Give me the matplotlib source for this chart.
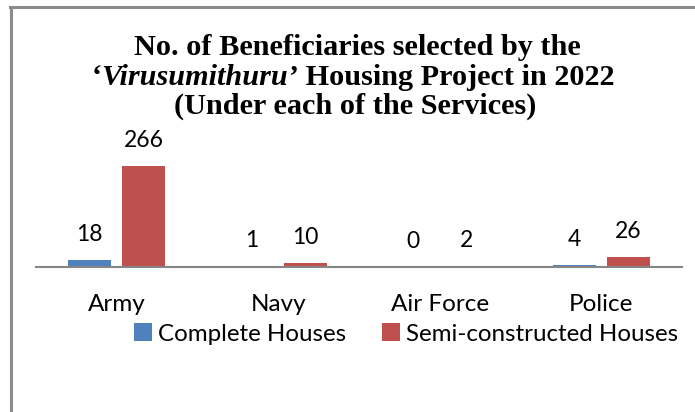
import matplotlib
matplotlib.use('Agg')
import matplotlib.pyplot as plt
from matplotlib.lines import Line2D
from matplotlib.patches import Patch
import numpy as np

categories = ['Army', 'Navy', 'Air Force', 'Police']
complete_houses = [18, 1, 0, 4]
semi_constructed = [266, 10, 2, 26]
series_names = ['Complete Houses', 'Semi-constructed Houses']
colors = ['#4F81BD', '#C0504D']

W, H = 695, 412
fig = plt.figure(figsize=(W / 100, H / 100), dpi=100)
fig.patch.set_facecolor('white')

def fx(px):
    return px / W

def fy(py):
    return (H - py) / H

# frame (top and left edges visible)
fig.add_artist(Line2D([fx(10), fx(695)], [fy(6.5), fy(6.5)], color='#8c8c8c', lw=2.2))
fig.add_artist(Line2D([fx(10.5), fx(10.5)], [fy(6.5), fy(412)], color='#8c8c8c', lw=2.2))

# axes: baseline at y=267 px, x from 36 to 682
ax = fig.add_axes([fx(36), fy(267), fx(682) - fx(36), 120 / H])
ax.set_xlim(-0.5, len(categories) - 0.5)
ax.set_ylim(0, 316)
x = np.arange(len(categories))
bw = 0.266
off = 0.167
for vals, c, dx in [(complete_houses, colors[0], -off), (semi_constructed, colors[1], off)]:
    ax.bar(x + dx, vals, width=bw, color=c, zorder=2)
    for xi, v in zip(x + dx, vals):
        ax.annotate(str(v), (xi, v), xytext=(0, 14), textcoords='offset points',
                    ha='center', va='baseline', fontsize=16.5, family='Lato', color='black')

for s in ['top', 'right', 'left']:
    ax.spines[s].set_visible(False)
ax.spines['bottom'].set_color('#868686')
ax.spines['bottom'].set_linewidth(1.5)
ax.set_yticks([])
ax.set_xticks(x)
ax.set_xticklabels(categories, family='Lato', fontsize=17.5)
ax.tick_params(axis='x', length=0, pad=19.5)
ax.patch.set_alpha(0)

handles = [Patch(facecolor=colors[0]), Patch(facecolor=colors[1])]
fig.legend(handles, series_names, loc='center', bbox_to_anchor=(fx(406), fy(334)),
           ncol=2, frameon=False, prop={'family': 'Lato', 'size': 17.4},
           handlelength=0.75, handleheight=0.75, handletextpad=0.25, columnspacing=1.5,
           borderpad=0, borderaxespad=0)

# title with mixed italic
renderer = fig.canvas.get_renderer()
tfont = dict(family='Liberation Serif', weight='bold', color='black')

def width_px(s, size, style='normal'):
    t = fig.text(0, 0, s, fontsize=size, style=style, **tfont)
    w = t.get_window_extent(renderer).width
    t.remove()
    return w

line1 = 'No. of Beneficiaries selected by the'
base = 20
tsize = base * 448 / width_px(line1, base)

fig.text(fx(357), fy(55), line1, ha='center', va='baseline', fontsize=tsize, **tfont)
pieces = [('\u2018', 'normal'), ('Virusumithuru\u2019', 'italic'), (' Housing Project in 2022', 'normal')]
widths = [width_px(s, tsize, st) for s, st in pieces]
start = 353 - sum(widths) / 2
for (s, st), w in zip(pieces, widths):
    fig.text(fx(start), fy(85), s, ha='left', va='baseline', fontsize=tsize, style=st, **tfont)
    start += w
fig.text(fx(355), fy(114), '(Under each of the Services)', ha='center', va='baseline', fontsize=tsize, **tfont)

fig.savefig('out.png', dpi=100)
